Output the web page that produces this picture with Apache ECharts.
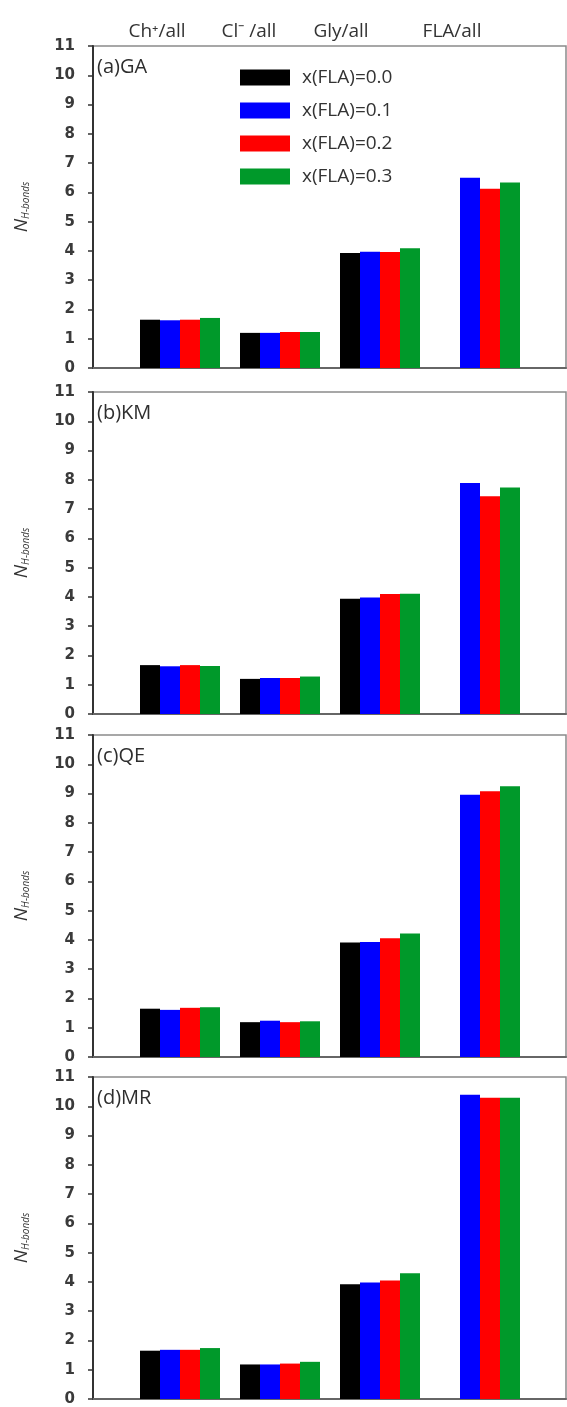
<!DOCTYPE html>
<html>
<head>
<meta charset="utf-8">
<title>Hydrogen bonds per species</title>
<script src="https://cdn.jsdelivr.net/npm/echarts@6/dist/echarts.min.js"></script>
<style>
  html, body { margin: 0; padding: 0; background: #fff; }
  #chart { width: 567px; height: 1407px; }
</style>
</head>
<body>
<div id="chart"></div>
<script>
// Species pairs shown along the x axis (one bar group each)
const categories = ['Ch\u207A/all', 'Cl\u207B /all', 'Gly/all', 'FLA/all'];
// One bar series per FLA mole fraction
const seriesNames = ['x(FLA)=0.0', 'x(FLA)=0.1', 'x(FLA)=0.2', 'x(FLA)=0.3'];
const seriesColors = ['#000000', '#0000ff', '#ff0000', '#00992a'];
const panelLabels = ['(a)GA', '(b)KM', '(c)QE', '(d)MR'];
const yTicks = { min: 0, max: 11, interval: 1 };

// Average number of H-bonds, rows = series, columns = categories
const gaValues = [
  [1.65, 1.20, 3.93, null],
  [1.63, 1.20, 3.97, 6.50],
  [1.65, 1.23, 3.96, 6.12],
  [1.71, 1.23, 4.09, 6.34]
];
const kmValues = [
  [1.67, 1.20, 3.94, null],
  [1.63, 1.23, 3.98, 7.89],
  [1.67, 1.23, 4.10, 7.44],
  [1.64, 1.28, 4.11, 7.74]
];
const qeValues = [
  [1.65, 1.19, 3.91, null],
  [1.61, 1.24, 3.93, 8.96],
  [1.68, 1.19, 4.06, 9.08],
  [1.70, 1.22, 4.22, 9.25]
];
const mrValues = [
  [1.65, 1.18, 3.92, null],
  [1.68, 1.18, 3.98, 10.39],
  [1.68, 1.21, 4.05, 10.29],
  [1.74, 1.27, 4.30, 10.29]
];
const panels = [gaValues, kmValues, qeValues, mrValues];

// Layout
const panelTops = [46, 392, 735, 1077];
const panelHeight = 322;
const frameLeft = 93, frameWidth = 473;
const barLeft = 130, barWidth = 400;
const headerX = [157, 249, 341, 452];
const textFont = 'Open Sans';

const grids = [], xAxes = [], yAxes = [], series = [], graphics = [];

panels.forEach((values, p) => {
  const top = panelTops[p];
  const frameIdx = grids.length;
  // frame grid: border, y ticks and axis title
  grids.push({ left: frameLeft, width: frameWidth, top: top, height: panelHeight,
    show: true, borderColor: '#8a8a8a', borderWidth: 1.5 });
  xAxes.push({ gridIndex: frameIdx, type: 'value', min: 0, max: 1, position: 'bottom',
    axisLine: { show: true, lineStyle: { color: '#666', width: 2 } },
    axisTick: { show: false }, axisLabel: { show: false }, splitLine: { show: false } });
  yAxes.push({ gridIndex: frameIdx, type: 'value', min: yTicks.min, max: yTicks.max, interval: yTicks.interval,
    axisLine: { show: true, lineStyle: { color: '#333', width: 2 } },
    axisTick: { show: true, inside: false, length: 5, lineStyle: { color: '#333', width: 1.5 } },
    axisLabel: { show: true, margin: 18, fontFamily: 'DejaVu Sans', fontWeight: 'bold', fontSize: 15, color: '#3a3a3a' },
    splitLine: { show: false },
    name: '{n|N}{s|H-bonds}', nameLocation: 'middle', nameRotate: 90, nameGap: 62,
    nameTextStyle: { rich: {
      n: { fontFamily: textFont, fontStyle: 'italic', fontSize: 19, color: '#333' },
      s: { fontFamily: textFont, fontStyle: 'italic', fontSize: 10, color: '#333', verticalAlign: 'bottom', padding: [9, 0, 0, 0] }
    } } });

  // bar grid: four equal bands for the bar groups
  const barIdx = grids.length;
  grids.push({ left: barLeft, width: barWidth, top: top, height: panelHeight });
  xAxes.push({ gridIndex: barIdx, type: 'category', data: categories, show: false });
  yAxes.push({ gridIndex: barIdx, type: 'value', min: yTicks.min, max: yTicks.max, show: false });

  values.forEach((row, s) => {
    series.push({ type: 'bar', name: seriesNames[s], xAxisIndex: barIdx, yAxisIndex: barIdx,
      data: row, barWidth: 20, barGap: '0%', itemStyle: { color: seriesColors[s] },
      silent: true });
  });

  graphics.push({ type: 'text', x: 97, y: top + 21,
    style: { text: panelLabels[p], font: '20px "' + textFont + '"', fill: '#2e2e2e', verticalAlign: 'middle' } });
});

categories.forEach((c, i) => {
  graphics.push({ type: 'text', x: headerX[i], y: 32,
    style: { text: c, font: '19px "' + textFont + '"', fill: '#333', align: 'center', verticalAlign: 'middle' } });
});

const chart = echarts.init(document.getElementById('chart'), null, { renderer: 'canvas' });
chart.setOption({
  animation: false,
  backgroundColor: '#fff',
  grid: grids,
  xAxis: xAxes,
  yAxis: yAxes,
  series: series,
  legend: {
    data: seriesNames, orient: 'vertical', left: 240, top: 68, padding: 0,
    icon: 'rect', itemWidth: 50, itemHeight: 16, itemGap: 14,
    textStyle: { fontFamily: textFont, fontSize: 19, color: '#333', padding: [0, 0, 0, 7] },
    selectedMode: false
  },
  graphic: graphics
});
</script>
</body>
</html>
